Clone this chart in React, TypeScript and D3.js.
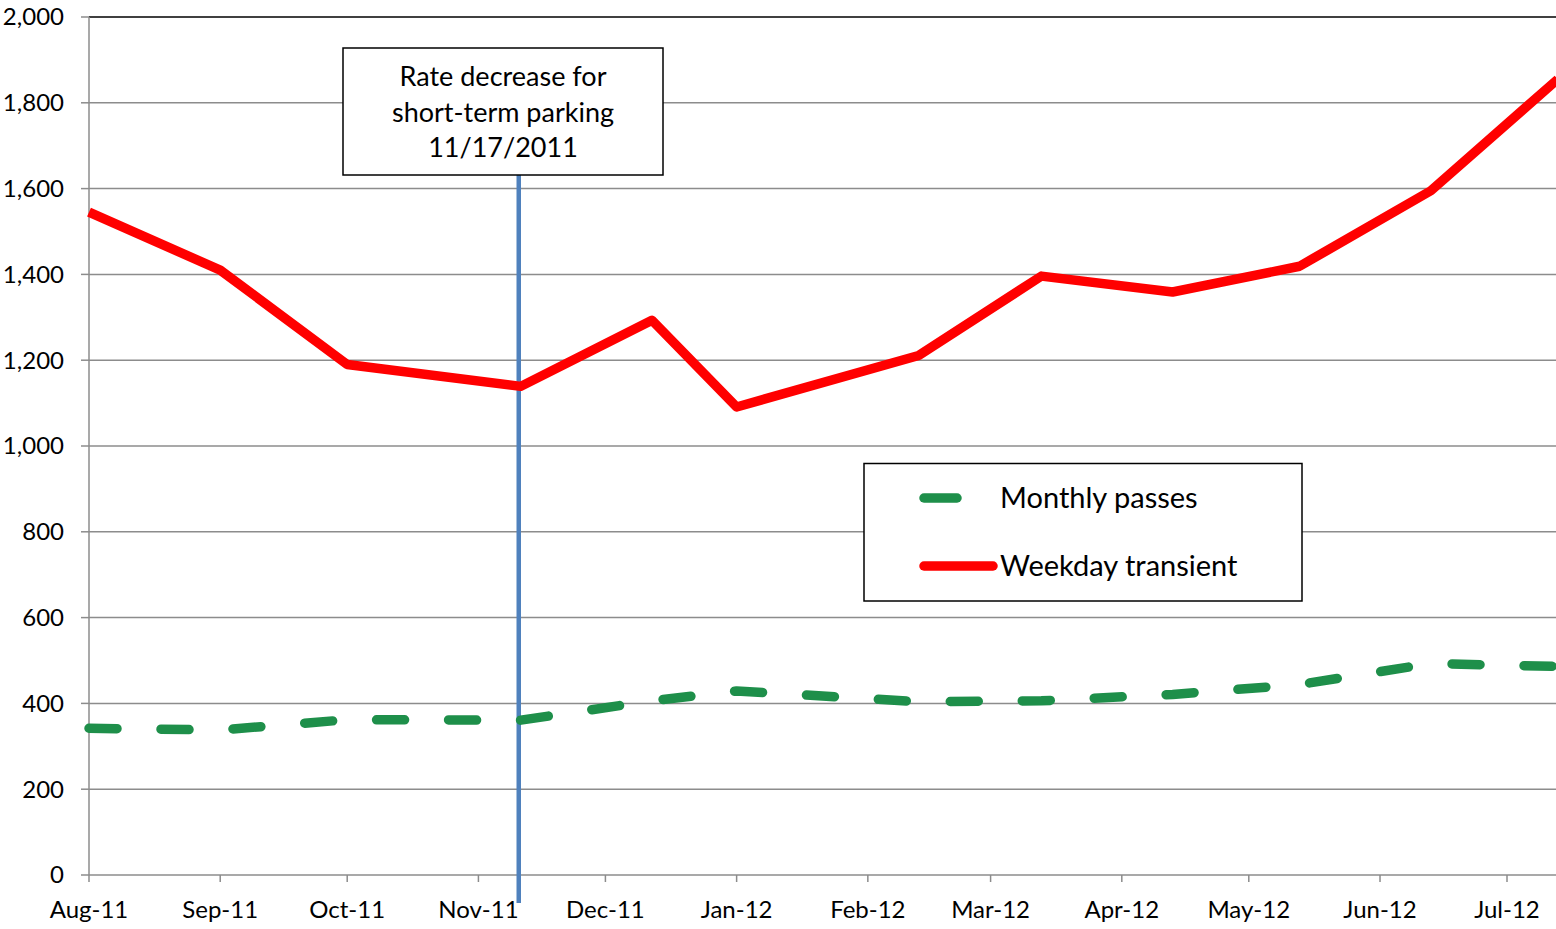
import React, { useEffect, useRef } from "react";
import * as d3 from "d3";

const dates: string[] = [
  "2011-08-01", "2011-09-01", "2011-10-01", "2011-11-11", "2011-12-12", "2012-01-01",
  "2012-02-13", "2012-03-13", "2012-04-13", "2012-05-13", "2012-06-13", "2012-07-13",
];
const weekdayTransient: number[] = [1545, 1410, 1190, 1139, 1293, 1091, 1211, 1396, 1359, 1419, 1595, 1855];
const monthlyPasses: number[] = [342, 338, 362, 361, 406, 429, 404, 406, 421, 444, 493, 486];
const yTicks: number[] = [0, 200, 400, 600, 800, 1000, 1200, 1400, 1600, 1800, 2000];
const tickMonths: string[] = [
  "2011-08-01", "2011-09-01", "2011-10-01", "2011-11-01", "2011-12-01", "2012-01-01",
  "2012-02-01", "2012-03-01", "2012-04-01", "2012-05-01", "2012-06-01", "2012-07-01",
];
const annotationDate = "2011-11-11";
const annotationLines: string[] = ["Rate decrease for", "short-term parking", "11/17/2011"];
const seriesNames: string[] = ["Monthly passes", "Weekday transient"];

const W = 1556;
const H = 929;
const FONT = "Lato, 'Open Sans', sans-serif";

export default function App() {
  const ref = useRef<SVGSVGElement>(null);

  useEffect(() => {
    const svg = d3.select(ref.current);
    svg.selectAll("*").remove();
    const parse = d3.utcParse("%Y-%m-%d");
    const x = d3.scaleUtc()
      .domain([parse("2011-08-01")!, parse("2012-07-01")!])
      .range([89, 1507]);
    const y = d3.scaleLinear().domain([0, 2000]).range([875, 17]);
    const plotRight = W;

    // gridlines
    svg.append("g").selectAll("line").data(yTicks.filter((t) => t > 0)).join("line")
      .attr("x1", 89).attr("x2", plotRight)
      .attr("y1", (d) => y(d)).attr("y2", (d) => y(d))
      .attr("stroke", (d) => (d === 2000 ? "#000" : "#8c8c8c"))
      .attr("stroke-width", 1.5);

    // y axis line & ticks
    svg.append("line").attr("x1", 89).attr("x2", 89).attr("y1", y(2000)).attr("y2", y(0))
      .attr("stroke", "#8c8c8c").attr("stroke-width", 1.5);
    svg.append("g").selectAll("line").data(yTicks).join("line")
      .attr("x1", 81).attr("x2", 89).attr("y1", (d) => y(d)).attr("y2", (d) => y(d))
      .attr("stroke", "#8c8c8c").attr("stroke-width", 1.5);
    svg.append("g").selectAll("text").data(yTicks).join("text")
      .attr("x", 64).attr("y", (d) => y(d)).attr("dy", "0.35em")
      .attr("text-anchor", "end").attr("font-family", FONT).attr("font-size", 24)
      .attr("fill", "#000").text((d) => d3.format(",")(d));

    // x axis
    svg.append("line").attr("x1", 89).attr("x2", plotRight).attr("y1", y(0)).attr("y2", y(0))
      .attr("stroke", "#8c8c8c").attr("stroke-width", 1.5);
    const tms = tickMonths.map((s) => parse(s)!);
    svg.append("g").selectAll("line").data(tms).join("line")
      .attr("x1", (d) => x(d)).attr("x2", (d) => x(d)).attr("y1", y(0)).attr("y2", y(0) + 7)
      .attr("stroke", "#8c8c8c").attr("stroke-width", 1.5);
    svg.append("g").selectAll("text").data(tms).join("text")
      .attr("x", (d) => x(d)).attr("y", 918)
      .attr("text-anchor", "middle").attr("font-family", FONT).attr("font-size", 24)
      .attr("fill", "#000").text((d) => d3.utcFormat("%b-%y")(d));

    const pts = dates.map((s) => parse(s)!);
    const line = d3.line<[Date, number]>().x((d) => x(d[0])).y((d) => y(d[1]));

    // annotation vertical line
    const ax = x(parse(annotationDate)!) - 2;
    svg.append("line").attr("x1", ax).attr("x2", ax).attr("y1", 175).attr("y2", 903)
      .attr("stroke", "#4f81bd").attr("stroke-width", 4.5);

    // series
    svg.append("path").datum(pts.map((d, i) => [d, monthlyPasses[i]] as [Date, number]))
      .attr("d", line).attr("fill", "none").attr("stroke", "#1e8f4a")
      .attr("stroke-width", 9.5).attr("stroke-linecap", "round").attr("stroke-linejoin", "round")
      .attr("stroke-dasharray", "28,44");
    svg.append("path").datum(pts.map((d, i) => [d, weekdayTransient[i]] as [Date, number]))
      .attr("d", line).attr("fill", "none").attr("stroke", "#ff0000")
      .attr("stroke-width", 9.5).attr("stroke-linejoin", "round");

    // annotation box
    svg.append("rect").attr("x", 343).attr("y", 48).attr("width", 320).attr("height", 127)
      .attr("fill", "#fff").attr("stroke", "#000").attr("stroke-width", 1.5);
    svg.append("g").selectAll("text").data(annotationLines).join("text")
      .attr("x", 503).attr("y", (_, i) => 77 + i * 35.5).attr("dy", "0.35em")
      .attr("text-anchor", "middle").attr("font-family", FONT).attr("font-size", 27)
      .attr("fill", "#000").text((d) => d);

    // legend
    const lg = svg.append("g");
    lg.append("rect").attr("x", 864).attr("y", 463.5).attr("width", 438).attr("height", 137.5)
      .attr("fill", "#fff").attr("stroke", "#000").attr("stroke-width", 1.5);
    const legendY = [498, 566];
    lg.append("line").attr("x1", 924).attr("x2", 996).attr("y1", legendY[0]).attr("y2", legendY[0])
      .attr("stroke", "#1e8f4a").attr("stroke-width", 9.5).attr("stroke-linecap", "round")
      .attr("stroke-dasharray", "33,80");
    lg.append("line").attr("x1", 924).attr("x2", 993).attr("y1", legendY[1]).attr("y2", legendY[1])
      .attr("stroke", "#ff0000").attr("stroke-width", 9.5).attr("stroke-linecap", "round");
    lg.selectAll("text.lt").data(seriesNames).join("text")
      .attr("x", 1000).attr("y", (_, i) => legendY[i]).attr("dy", "0.35em")
      .attr("font-family", FONT).attr("font-size", 29).attr("fill", "#000").text((d) => d);
  }, []);

  return (
    <svg ref={ref} width={W} height={H}
      style={{ position: "absolute", left: 0, top: 0, display: "block", background: "#fff" }} />
  );
}
